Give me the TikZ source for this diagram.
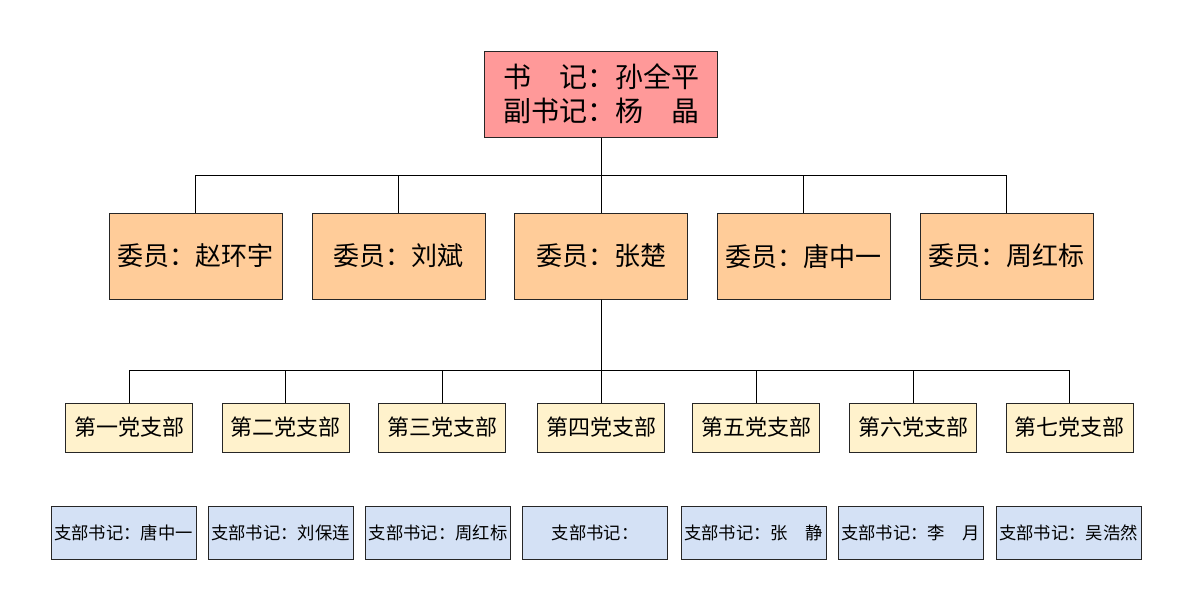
\documentclass[tikz,border=0pt]{standalone}
\usepackage{fontspec}
\setmainfont{Noto Sans CJK SC}
\usetikzlibrary{positioning}
\definecolor{leadred}{HTML}{FF9999}
\definecolor{memberorange}{HTML}{FFCC99}
\definecolor{branchyellow}{HTML}{FFF2CC}
\definecolor{secblue}{HTML}{D4E1F5}
\begin{document}
\begin{tikzpicture}[x=0.75pt,y=-0.75pt,line width=0.75pt,
  box/.style={rectangle,draw=black!85,inner sep=0pt,align=center},
  lead node/.style={box,fill=leadred,minimum width=174.75pt,minimum height=64.5pt,font=\fontsize{21}{25.5}\selectfont},
  member node/.style={box,fill=memberorange,minimum width=129.75pt,minimum height=64.5pt,font=\fontsize{19.5}{24}\selectfont},
  branch node/.style={box,fill=branchyellow,minimum width=95.25pt,minimum height=36.75pt,font=\fontsize{16.5}{20}\selectfont},
  sec node/.style={box,fill=secblue,minimum width=108.75pt,minimum height=39.75pt,font=\fontsize{13}{16}\selectfont}]

  \useasboundingbox (0,0) rectangle (1192,611);

  \node[lead node] (lead) at (601,94) {书　记：孙全平\\副书记：杨　晶};

  \node[member node] (m1) at (195.5,256) {委员：赵环宇};
  \node[member node] (m2) at (398.5,256) {委员：刘斌};
  \node[member node] (m3) at (601,256) {委员：张楚};
  \node[member node] (m4) at (803.5,256) {委员：唐中一};
  \node[member node] (m5) at (1006.5,256) {委员：周红标};

  \node[branch node] (b1) at (129,427.5) {第一党支部};
  \node[branch node] (b2) at (285.5,427.5) {第二党支部};
  \node[branch node] (b3) at (442,427.5) {第三党支部};
  \node[branch node] (b4) at (601,427.5) {第四党支部};
  \node[branch node] (b5) at (756,427.5) {第五党支部};
  \node[branch node] (b6) at (913,427.5) {第六党支部};
  \node[branch node] (b7) at (1069.5,427.5) {第七党支部};

  \node[sec node] (s1) at (123.5,532.5) {支部书记：唐中一};
  \node[sec node] (s2) at (280.5,532.5) {支部书记：刘保连};
  \node[sec node] (s3) at (438,532.5) {支部书记：周红标};
  \node[sec node] (s4) at (595,532.5) {支部书记：};
  \node[sec node] (s5) at (753.5,532.5) {支部书记：张　静};
  \node[sec node] (s6) at (910.5,532.5) {支部书记：李　月};
  \node[sec node] (s7) at (1068.5,532.5) {支部书记：吴浩然};

  \coordinate (bus1) at (0,175);
  \coordinate (bus2) at (0,370);

  % committee
  \draw (lead.south) -- (lead.south |- bus1) -| (m1.north);
  \draw (lead.south) -- (lead.south |- bus1) -| (m2.north);
  \draw (lead.south) -- (m3.north);
  \draw (lead.south) -- (lead.south |- bus1) -| (m4.north);
  \draw (lead.south) -- (lead.south |- bus1) -| (m5.north);

  % branches
  \draw (m3.south) -- (m3.south |- bus2) -| (b1.north);
  \draw (m3.south) -- (m3.south |- bus2) -| (b2.north);
  \draw (m3.south) -- (m3.south |- bus2) -| (b3.north);
  \draw (m3.south) -- (b4.north);
  \draw (m3.south) -- (m3.south |- bus2) -| (b5.north);
  \draw (m3.south) -- (m3.south |- bus2) -| (b6.north);
  \draw (m3.south) -- (m3.south |- bus2) -| (b7.north);

\end{tikzpicture}
\end{document}
